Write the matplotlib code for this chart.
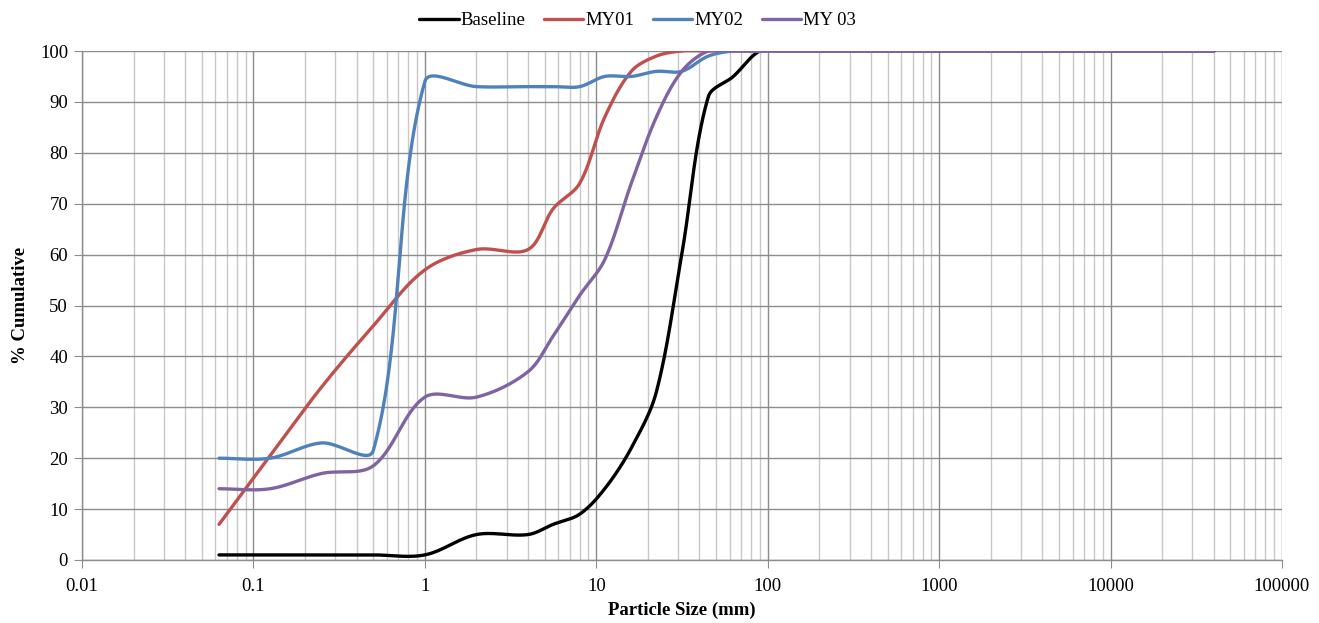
import numpy as np
import matplotlib
matplotlib.use("Agg")
import matplotlib.pyplot as plt
from matplotlib.ticker import FixedLocator, NullFormatter

# sieve sizes (mm)
sizes = [0.063, 0.125, 0.25, 0.5, 1, 2, 4, 5.6, 8, 11.2, 16, 22.4, 31.5, 45, 63, 90, 125, 40000]

baseline = [1, 1, 1, 1, 1, 5, 5, 7, 9, 14, 22, 33, 60, 91, 95, 100, 100, 100]
my01 = [7, 20.5, 34, 46, 57, 61, 61, 69, 74, 87, 96, 99, 100, 100, 100, 100, 100, 100]
my02 = [20, 20, 23, 21.5, 94, 93, 93, 93, 93, 95, 95, 96, 96, 99, 100, 100, 100, 100]
my03 = [14, 14, 17, 18.5, 32, 32, 37, 44, 52, 59, 74, 87, 96, 100, 100, 100, 100, 100]

series = [("Baseline", baseline, "#000000"),
          ("MY01", my01, "#C0504D"),
          ("MY02", my02, "#4F81BD"),
          ("MY 03", my03, "#8064A2")]

x_ticks = [0.01, 0.1, 1, 10, 100, 1000, 10000, 100000]
x_labels = ['0.01', '0.1', '1', '10', '100', '1000', '10000', '100000']

# screen scale used for smoothing (px per decade, px per % unit)
SX, SY = 171.4, 5.09


# Excel-like smoothed line: bezier with chord-scaled tangents, in screen space
def smooth(xs, ys, n=40):
    px = np.log10(np.array(xs, dtype=float)) * SX
    py = np.array(ys, dtype=float) * SY
    P = np.column_stack([px, py])
    m = len(P)
    d = np.hypot(np.diff(px), np.diff(py))
    out = []
    for i in range(m - 1):
        p1, p2 = P[i], P[i + 1]
        # forward control from p1
        if i == 0:
            c1 = p1 + (p2 - p1) / 3.0
        else:
            tan = P[i + 1] - P[i - 1]
            c1 = p1 + tan * d[i] / (d[i - 1] + d[i]) / 3.0
        # backward control into p2
        if i + 1 == m - 1:
            c2 = p2 - (p2 - p1) / 3.0
        else:
            tan = P[i + 2] - P[i]
            c2 = p2 - tan * d[i] / (d[i] + d[i + 1]) / 3.0
        t = np.linspace(0, 1, n)[:, None]
        b = ((1 - t) ** 3) * p1 + 3 * ((1 - t) ** 2) * t * c1 + 3 * (1 - t) * t ** 2 * c2 + t ** 3 * p2
        out.append(b)
    out = np.vstack(out)
    return 10 ** (out[:, 0] / SX), out[:, 1] / SY


plt.rcParams['font.family'] = ['Liberation Serif', 'DejaVu Serif']

fig = plt.figure(figsize=(13.19, 6.23), dpi=100)
ax = fig.add_axes([82 / 1319, 1 - 560 / 623, 1200 / 1319, 509 / 623])

for name, vals, col in series:
    sx, sy = smooth(sizes, vals)
    ax.plot(sx, sy, color=col, lw=2.4, label=name, solid_capstyle='round', zorder=3)

ax.set_xscale('log')
ax.set_xlim(0.01, 100000)
ax.set_ylim(0, 100)
ax.set_yticks(np.arange(0, 101, 10))
ax.set_xticks(x_ticks)
ax.set_xticklabels(x_labels)
minors = [m * 10.0 ** e for e in range(-2, 5) for m in range(2, 10)]
ax.xaxis.set_minor_locator(FixedLocator(minors))
ax.xaxis.set_minor_formatter(NullFormatter())

ax.grid(True, which='major', color='#8C8C8C', lw=1.0, zorder=1)
ax.grid(True, which='minor', axis='x', color='#C8C8C8', lw=1.0, zorder=0)
ax.set_axisbelow(True)

for s in ['top', 'right']:
    ax.spines[s].set_visible(False)
for s in ['left', 'bottom']:
    ax.spines[s].set_color('#8C8C8C')
    ax.spines[s].set_linewidth(1.0)

ax.tick_params(axis='both', which='major', length=6, color='#8C8C8C', labelsize=13.5, pad=4)
ax.tick_params(axis='x', which='minor', length=0)
ax.tick_params(axis='x', which='major', pad=7)

ax.set_xlabel('Particle Size (mm)', fontsize=13.5, fontweight='bold', labelpad=5)
ax.set_ylabel('% Cumulative', fontsize=13.5, fontweight='bold', labelpad=8)

ax.legend(loc='lower center', bbox_to_anchor=(0.463, 1.0), ncol=4, frameon=False,
          fontsize=13.5, handlelength=2.1, handletextpad=0.1, columnspacing=1.0,
          borderaxespad=0.75)

fig.savefig('out.png', dpi=100)
